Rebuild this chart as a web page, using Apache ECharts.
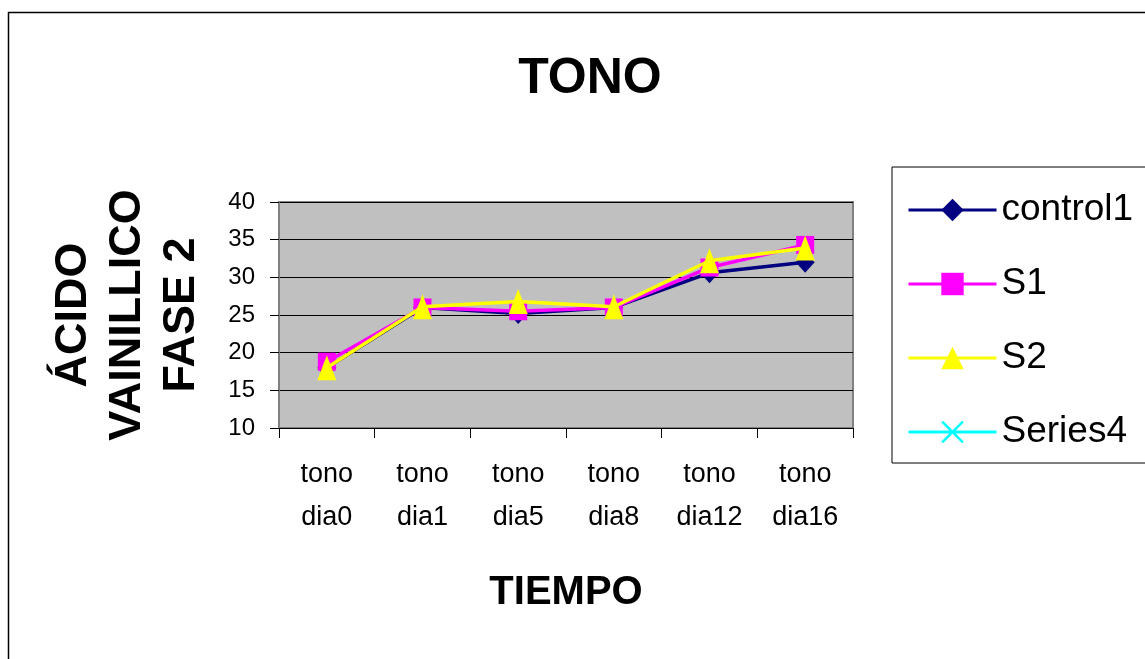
<!DOCTYPE html>
<html>
<head>
<meta charset="utf-8">
<script src="https://cdn.jsdelivr.net/npm/echarts@6/dist/echarts.min.js"></script>
<style>
html,body{margin:0;padding:0;background:#fff;}
#chart{width:1145px;height:659px;}
</style>
</head>
<body>
<div id="chart"></div>
<script>
var categories = ['tono\ndia0', 'tono\ndia1', 'tono\ndia5', 'tono\ndia8', 'tono\ndia12', 'tono\ndia16'];
var control1 = [18.0, 26.0, 25.2, 26.0, 30.6, 32.0];
var s1 = [18.8, 26.0, 25.5, 26.0, 31.3, 34.3];
var s2 = [18.0, 26.1, 26.8, 26.1, 32.2, 33.9];
var series4 = [null, null, null, null, null, null];
var yTicks = {min: 10, max: 40, interval: 5};

var FONT = '"Liberation Sans", Arial, sans-serif';
var crossPath = 'path://M0,1.5L1.5,0L10,8.5L18.5,0L20,1.5L11.5,10L20,18.5L18.5,20L10,11.5L1.5,20L0,18.5L8.5,10Z';

var chart = echarts.init(document.getElementById('chart'), null, {renderer: 'canvas'});
chart.setOption({
  animation: false,
  backgroundColor: '#ffffff',
  title: {
    text: 'TONO',
    left: 585,
    textAlign: 'center',
    top: 49,
    textStyle: {fontFamily: FONT, fontWeight: 'bold', fontSize: 50, color: '#000'}
  },
  graphic: [{
    type: 'rect',
    shape: {x: 8.5, y: 12.5, width: 1200, height: 700},
    style: {fill: 'none', stroke: '#000', lineWidth: 1.5},
    silent: true,
    z: -10
  }],
  legend: {
    orient: 'vertical',
    left: 892,
    top: 167,
    padding: [23, 40, 11, 15],
    itemGap: 34,
    itemWidth: 88,
    itemHeight: 28,
    borderColor: '#000',
    borderWidth: 1,
    backgroundColor: '#fff',
    lineStyle: {width: 3},
    textStyle: {fontFamily: FONT, fontSize: 37, color: '#000', lineHeight: 40},
    data: ['control1', 'S1', 'S2', 'Series4']
  },
  grid: {
    left: 279, top: 202, right: 292, bottom: 231,
    show: true,
    backgroundColor: '#c0c0c0',
    borderColor: '#808080',
    borderWidth: 2
  },
  xAxis: {
    type: 'category',
    data: categories,
    boundaryGap: true,
    name: 'TIEMPO',
    nameLocation: 'middle',
    nameGap: 145,
    nameTextStyle: {fontFamily: FONT, fontWeight: 'bold', fontSize: 40, color: '#000'},
    axisLine: {show: true, lineStyle: {color: '#000', width: 1}},
    axisTick: {show: true, alignWithLabel: false, length: 10, lineStyle: {color: '#000'}},
    axisLabel: {fontFamily: FONT, fontSize: 27, color: '#000', lineHeight: 43, margin: 25, interval: 0}
  },
  yAxis: {
    type: 'value',
    min: yTicks.min,
    max: yTicks.max,
    interval: yTicks.interval,
    name: 'ÁCIDO\nVAINILLICO\nFASE 2',
    nameLocation: 'middle',
    nameRotate: 90,
    nameGap: 70,
    nameTextStyle: {fontFamily: FONT, fontWeight: 'bold', fontSize: 45, color: '#000', lineHeight: 54},
    axisLine: {show: true, lineStyle: {color: '#808080', width: 2}},
    axisTick: {show: true, length: 9, lineStyle: {color: '#000'}},
    axisLabel: {fontFamily: FONT, fontSize: 24, color: '#000', margin: 24},
    splitLine: {show: true, lineStyle: {color: '#000', width: 1}}
  },
  series: [
    {name: 'control1', type: 'line', data: control1, color: '#000080',
     symbol: 'diamond', symbolSize: [19, 21], lineStyle: {width: 3.5, color: '#000080'},
     itemStyle: {color: '#000080'}, z: 2},
    {name: 'S1', type: 'line', data: s1, color: '#ff00ff',
     symbol: 'rect', symbolSize: 18, lineStyle: {width: 3.5, color: '#ff00ff'},
     itemStyle: {color: '#ff00ff'}, z: 3},
    {name: 'S2', type: 'line', data: s2, color: '#ffff00',
     symbol: 'triangle', symbolSize: [19, 25], lineStyle: {width: 3.5, color: '#ffff00'},
     itemStyle: {color: '#ffff00'}, z: 4},
    {name: 'Series4', type: 'line', data: series4, color: '#00ffff',
     symbol: crossPath, symbolSize: 18, lineStyle: {width: 3.5, color: '#00ffff'},
     itemStyle: {color: '#00ffff'}, z: 5}
  ]
});
</script>
</body>
</html>
